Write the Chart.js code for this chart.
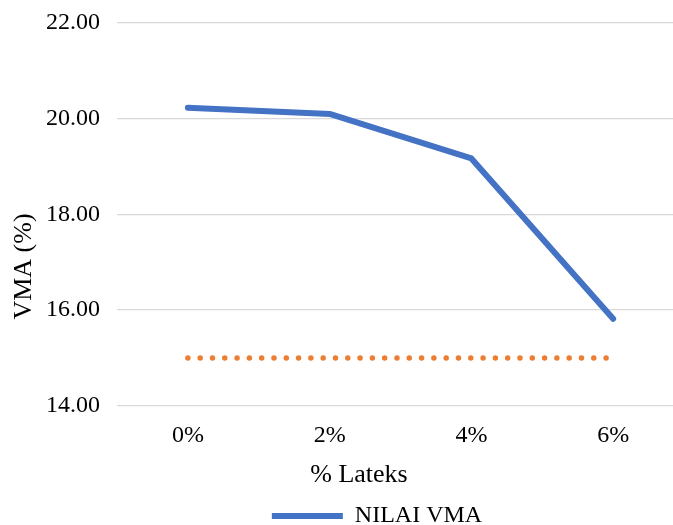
<!DOCTYPE html>
<html>
<head>
<meta charset="utf-8">
<script src="https://cdn.jsdelivr.net/npm/chart.js@4/dist/chart.umd.min.js"></script>
<style>
  html, body { margin: 0; padding: 0; background: #fff; }
  #wrap { width: 673px; height: 525px; overflow: hidden; position: relative; }
  #box { width: 717px; height: 525px; position: absolute; left: 0; top: 0; }
</style>
</head>
<body>
<div id="wrap"><div id="box"><canvas id="c"></canvas></div></div>
<script>
// Latex content (% of binder) on the x axis
const latexLabels = ['0%', '2%', '4%', '6%'];
// Measured VMA values (%)
const vmaValues = [20.23, 20.10, 19.17, 15.82];
// Minimum VMA requirement (%)
const vmaLimit = [15.00, 15.00, 15.00, 15.00];
// Value axis range
const yMin = 14;
const yMax = 22;
const yStep = 2;

const xTitle = '% Lateks';
const yTitle = 'VMA (%)';
const seriesName = 'NILAI VMA';
const limitName = 'Batas VMA';

const FONT = "'Liberation Serif', 'Times New Roman', serif";
const TEXT = '#000000';

// Rotated value-axis title, centred on the full chart height
const yTitlePlugin = {
  id: 'yTitle',
  afterDraw(chart) {
    const ctx = chart.ctx;
    ctx.save();
    ctx.translate(24, chart.height / 2 + 4);
    ctx.rotate(-Math.PI / 2);
    ctx.font = '26px ' + FONT;
    ctx.fillStyle = TEXT;
    ctx.textAlign = 'center';
    ctx.textBaseline = 'middle';
    ctx.fillText(yTitle, 0, 0);
    ctx.restore();
  }
};

// Fine horizontal placement of the bottom title and legend blocks
const blockShift = {
  id: 'blockShift',
  afterLayout(chart) {
    const lg = chart.legend;
    if (lg) { lg.left += 12; lg.right += 12; }
    const tb = chart.titleBlock;
    if (tb) { tb.left -= 6; tb.right -= 6; }
  }
};

Chart.defaults.font.family = FONT;
Chart.defaults.color = TEXT;

new Chart(document.getElementById('c'), {
  type: 'line',
  data: {
    labels: latexLabels,
    datasets: [
      {
        label: seriesName,
        data: vmaValues,
        borderColor: '#4472C4',
        backgroundColor: '#4472C4',
        borderWidth: 6,
        borderCapStyle: 'round',
        borderJoinStyle: 'round',
        pointRadius: 0,
        tension: 0,
        order: 1
      },
      {
        label: limitName,
        data: vmaLimit,
        borderColor: '#ED7D31',
        backgroundColor: '#ED7D31',
        borderWidth: 5.5,
        borderDash: [0, 12.3],
        borderCapStyle: 'round',
        pointRadius: 0,
        tension: 0,
        order: 2
      }
    ]
  },
  options: {
    responsive: true,
    maintainAspectRatio: false,
    animation: false,
    layout: { padding: { top: 0, right: 33, bottom: -13, left: 46 } },
    scales: {
      x: {
        offset: true,
        grid: { display: false, drawTicks: false },
        border: { display: false },
        ticks: { padding: 16, maxRotation: 0, font: { size: 24 }, color: TEXT },
        afterFit(scale) { scale.height = 44; }
      },
      y: {
        min: yMin,
        max: yMax,
        grid: { color: '#d9d9d9', lineWidth: 1.3, drawTicks: false },
        border: { display: false },
        ticks: {
          stepSize: yStep,
          padding: 8.6,
          crossAlign: 'far',
          font: { size: 24 },
          color: TEXT,
          callback: v => Number(v).toFixed(2)
        },
        afterFit(scale) { scale.width = 71; }
      }
    },
    plugins: {
      title: {
        display: true,
        text: xTitle,
        position: 'bottom',
        weight: 500,
        font: { size: 26, weight: 'normal' },
        color: TEXT,
        padding: { top: 10, bottom: 3 }
      },
      legend: {
        position: 'bottom',
        labels: {
          filter: item => item.datasetIndex === 0,
          usePointStyle: true,
          pointStyle: 'line',
          pointStyleWidth: 71,
          font: { size: 24 },
          color: TEXT,
          padding: 10
        }
      },
      tooltip: { enabled: false }
    }
  },
  plugins: [yTitlePlugin, blockShift]
});
</script>
</body>
</html>
